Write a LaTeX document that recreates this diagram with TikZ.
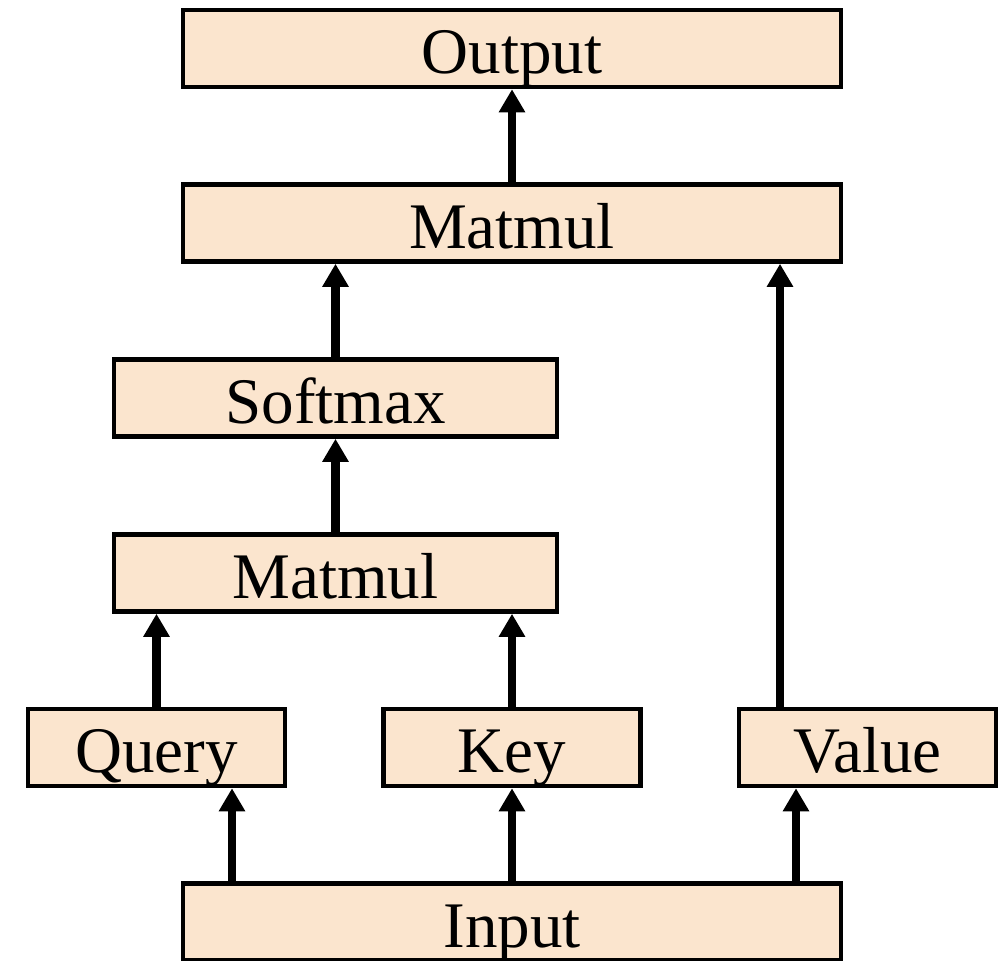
\documentclass[tikz,border=0pt]{standalone}
\usepackage{fontspec}
\setmainfont{Liberation Serif}
\usetikzlibrary{arrows.meta}
\definecolor{boxfill}{RGB}{251,229,206}

\begin{document}
\begin{tikzpicture}[
		block/.style={draw, fill=boxfill, line width=2.6pt, inner sep=0pt, minimum height=1.54cm, text height=1.02cm, text depth=0cm, font=\fontsize{37}{44}\selectfont},
		widebox/.style={block, minimum width=13.16cm},
		midbox/.style={block, minimum width=8.86cm},
		smallbox/.style={block, minimum width=5.14cm},
		flow/.style={line width=5pt, -{Triangle[length=0.46cm, width=0.5cm]}}
	]
	\useasboundingbox (0,0) rectangle (20.1,19.2);
	% draw blocks
	\node[widebox] (output) at (10.24,18.23) {Output};
	\node[widebox] (matmulb) at (10.24,14.74) {Matmul};
	\node[midbox] (softmax) at (6.71,11.24) {Softmax};
	\node[midbox] (matmula) at (6.71,7.74) {Matmul};
	\node[smallbox] (query) at (3.13,4.25) {Query};
	\node[smallbox] (key) at (10.24,4.25) {Key};
	\node[smallbox] (value) at (17.35,4.25) {Value};
	\node[widebox] (input) at (10.24,0.76) {Input};
	% input to query, key, value
	\coordinate (qin) at ([xshift=1.51cm]query.south);
	\coordinate (vin) at ([xshift=-1.43cm]value.south);
	\draw[flow] (input.north -| qin) -- (qin);
	\draw[flow] (input.north -| key.south) -- (key.south);
	\draw[flow] (input.north -| vin) -- (vin);
	% attention scores
	\draw[flow] (query.north) -- (query.north |- matmula.south);
	\draw[flow] (key.north) -- (key.north |- matmula.south);
	\draw[flow] (matmula) -- (softmax);
	% weighted values
	\coordinate (vout) at ([xshift=-1.75cm]value.north);
	\draw[flow] (softmax.north) -- (softmax.north |- matmulb.south);
	\draw[flow] (vout) -- (vout |- matmulb.south);
	\draw[flow] (matmulb) -- (output);
\end{tikzpicture}
\end{document}
